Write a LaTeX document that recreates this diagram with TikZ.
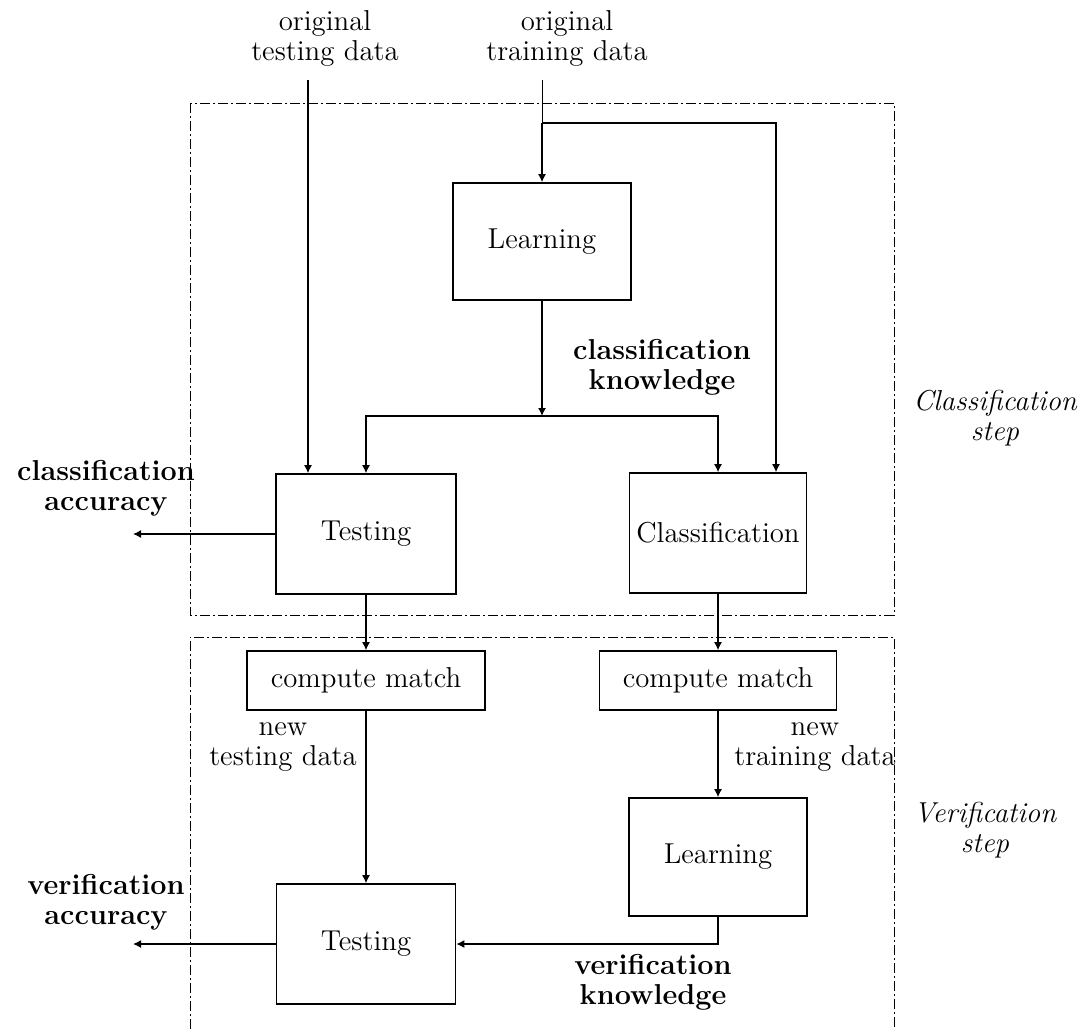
\documentclass[tikz,border=0pt]{standalone}
\usetikzlibrary{arrows.meta}
\usetikzlibrary{positioning}
\usetikzlibrary{calc}

\begin{document}
\begin{tikzpicture}[x=0.5pt, y=-0.5pt,
        every node/.style={font=\fontsize{14.4}{15}\selectfont, align=center},
        blk/.style={draw, line width=0.8pt, inner sep=0pt},
        arr/.style={-{Latex[length=4pt,width=4pt]}, line width=0.7pt},
        dashbox/.style={line width=0.5pt, dash pattern=on 5pt off 1.5pt on 1pt off 1.5pt},
        lbl/.style={font=\fontsize{14.4}{15}\selectfont\bfseries},
        stp/.style={font=\fontsize{14.4}{15}\selectfont\itshape}]
        \useasboundingbox (0,0) rectangle (1086,1029);
        % the two steps
        \draw[dashbox] (190,103) rectangle (894,615);
        \draw[dashbox] (190,1029) |- (894,637) -- (894,1029);
        \node[stp] (cstep) at (995,418) {Classification\\step};
        \node[stp] (vstep) at (985,830) {Verification\\step};
        % boxes
        \node[blk, minimum width=89pt, minimum height=58.5pt] (l1) at (542,241.5) {Learning};
        \node[blk, minimum width=90pt, minimum height=60pt] (t1) at (366,534) {Testing};
        \node[blk, minimum width=88.5pt, minimum height=60pt] (cls) at (718,533) {Classification};
        \node[blk, minimum width=119pt, minimum height=29.5pt] (cm1) at (366,680.5) {compute match};
        \node[blk, minimum width=118.5pt, minimum height=29.5pt] (cm2) at (718,680.5) {compute match};
        \node[blk, minimum width=89pt, minimum height=59pt] (l2) at (718,857) {Learning};
        \node[blk, minimum width=89.5pt, minimum height=60pt] (t2) at (366,944) {Testing};
        % labels
        \node (otest) at (325,38) {original\\testing data};
        \node (otrain) at (567,38) {original\\training data};
        \node[lbl] (cknow) at (662,367) {classification\\knowledge};
        \node[lbl] (cacc) at (106,488) {classification\\accuracy};
        \node (ntest) at (283,747) {new\\testing data};
        \node (ntrain) at (815,747) {new\\training data};
        \node[lbl] (vacc) at (106,902) {verification\\accuracy};
        \node[lbl] (vknow) at (653,982) {verification\\knowledge};
        % connectors
        \coordinate (tsrc) at (308,80);
        \coordinate (rsrc) at (542,80);
        \coordinate (split) at (542,123);
        \coordinate (know) at (542,416);
        \coordinate (cout) at (133,534);
        \coordinate (vout) at (133,944);
        \draw[arr] (tsrc) -- (tsrc |- t1.north);
        \draw (rsrc) -- (split);
        \draw[arr] (split) -- (l1.north);
        \draw[arr] (split) -| ([xshift=29pt]cls.north);
        \draw[arr] (l1.south) -- (know);
        \draw[arr] (know) -| (t1.north);
        \draw[arr] (know) -| (cls.north);
        \draw[arr] (t1.west) -- (cout);
        \draw[arr] (t1.south) -- (cm1.north);
        \draw[arr] (cls.south) -- (cm2.north);
        \draw[arr] (cm1.south) -- (t2.north);
        \draw[arr] (cm2.south) -- (l2.north);
        \draw[arr] (l2.south) |- (t2.east);
        \draw[arr] (t2.west) -- (vout);
\end{tikzpicture}
\end{document}
